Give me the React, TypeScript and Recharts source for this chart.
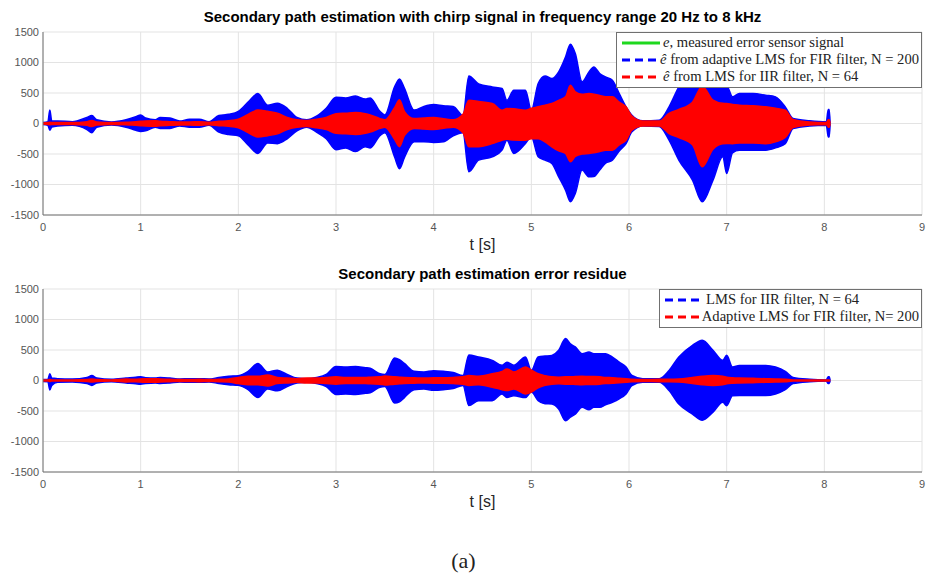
import {
  ComposedChart,
  Area,
  XAxis,
  YAxis,
  CartesianGrid,
  Legend,
} from 'recharts';

// time stamps (s) at which the envelopes were read
const times = [
  0, 0.05, 0.07, 0.09, 0.15, 0.3, 0.45, 0.5, 0.55, 0.7,
  0.85, 0.95, 1.0, 1.05, 1.15, 1.2, 1.3, 1.4, 1.5, 1.6,
  1.7, 1.8, 1.9, 2.0, 2.1, 2.2, 2.3, 2.4, 2.5, 2.6,
  2.7, 2.8, 2.9, 3.0, 3.1, 3.2, 3.3, 3.35, 3.45, 3.5,
  3.6, 3.65, 3.7, 3.8, 3.9, 4.0, 4.1, 4.2, 4.3, 4.36,
  4.46, 4.6, 4.7, 4.75, 4.82, 4.94, 5.0, 5.07, 5.14, 5.21,
  5.28, 5.35, 5.4, 5.45, 5.52, 5.59, 5.64, 5.7, 5.76, 5.83,
  5.9, 5.97, 6.03, 6.14, 6.31, 6.41, 6.51, 6.65, 6.75, 6.86,
  6.96, 7.0, 7.06, 7.13, 7.27, 7.4, 7.5, 7.6, 7.68, 7.85,
  8.02, 8.04, 8.05, 8.06,
];

// top panel: ê from adaptive LMS for FIR filter (blue envelope)
const topBlueHi = [
  15, 30, 220, 40, 40, 30, 100, 130, 60, 25,
  60, 110, 140, 90, 60, 100, 90, 40, 70, 70,
  30, 130, 150, 200, 350, 490, 300, 330, 250, 100,
  60, 120, 250, 430, 420, 450, 400, 420, 200, 140,
  600, 730, 580, 220, 280, 310, 290, 280, 130, 780,
  650, 600, 575, 380, 546, 546, 218, 655, 780, 737,
  846, 1090, 1300, 1147, 683, 846, 928, 820, 764, 710,
  491, 273, 137, 44, 55, 273, 600, 900, 1000, 800,
  600, 620, 437, 491, 491, 464, 437, 273, 82, 44,
  27, 230, 230, 0,
];
const topBlueLo = [
  -15, -30, -110, -60, -40, -30, -100, -150, -60, -25,
  -60, -110, -130, -120, -60, -80, -80, -40, -60, -60,
  -30, -140, -180, -200, -350, -490, -320, -330, -250, -120,
  -60, -140, -250, -430, -400, -460, -380, -400, -200, -150,
  -550, -740, -560, -300, -300, -310, -300, -200, -150, -790,
  -600, -546, -437, -273, -491, -328, -218, -546, -600, -655,
  -874, -1092, -1283, -1147, -764, -874, -870, -764, -650, -600,
  -450, -328, -136, -40, -50, -273, -600, -928, -1283, -928,
  -546, -819, -480, -437, -437, -437, -400, -330, -82, -40,
  -27, -220, -220, 0,
];

// top panel: ê from LMS for IIR filter (red envelope)
const topRedHi = [
  10, 15, 20, 15, 15, 15, 30, 50, 25, 15,
  20, 30, 35, 40, 45, 35, 30, 25, 25, 30,
  20, 35, 45, 70, 150, 220, 200, 170, 100, 60,
  50, 70, 100, 160, 170, 180, 160, 140, 80, 60,
  260, 390, 200, 80, 90, 100, 80, 60, 150, 380,
  360, 328, 218, 245, 240, 218, 250, 273, 300, 328,
  380, 437, 628, 519, 480, 491, 480, 460, 440, 437,
  350, 273, 120, 40, 40, 164, 230, 350, 611, 382,
  330, 328, 310, 300, 290, 273, 250, 218, 65, 25,
  15, 60, 60, 0,
];
const topRedLo = [
  -10, -15, -20, -15, -15, -15, -30, -50, -25, -15,
  -20, -30, -35, -40, -45, -35, -30, -25, -25, -30,
  -20, -35, -45, -70, -150, -220, -200, -170, -100, -60,
  -50, -70, -100, -160, -170, -180, -160, -140, -80, -60,
  -260, -380, -200, -80, -90, -100, -80, -60, -150, -380,
  -380, -330, -273, -260, -270, -273, -250, -250, -300, -382,
  -450, -491, -628, -540, -500, -491, -480, -460, -440, -437,
  -350, -273, -110, -40, -40, -164, -230, -350, -710, -420,
  -330, -328, -330, -320, -320, -330, -300, -230, -65, -25,
  -15, -60, -60, 0,
];

// bottom panel: LMS for IIR filter residue (blue envelope)
const botBlueHi = [
  15, 20, 110, 40, 30, 25, 50, 80, 40, 20,
  40, 55, 60, 45, 40, 50, 40, 25, 30, 30,
  25, 50, 70, 80, 150, 280, 140, 170, 100, 40,
  30, 50, 100, 230, 220, 230, 210, 200, 110, 100,
  370, 340, 280, 150, 140, 160, 150, 130, 80, 420,
  385, 330, 250, 300, 250, 385, 165, 385, 400, 412,
  495, 687, 600, 550, 440, 467, 440, 440, 440, 385,
  300, 220, 82, 30, 30, 165, 385, 577, 660, 495,
  330, 412, 220, 247, 247, 247, 220, 150, 50, 20,
  10, 60, 60, 0,
];
const botBlueLo = [
  -15, -20, -155, -80, -30, -25, -50, -80, -40, -20,
  -40, -55, -60, -50, -40, -50, -40, -25, -30, -30,
  -25, -50, -70, -80, -150, -280, -140, -170, -100, -40,
  -30, -50, -100, -230, -220, -230, -210, -200, -110, -100,
  -370, -350, -280, -150, -140, -160, -150, -130, -80, -410,
  -330, -330, -220, -280, -250, -280, -190, -330, -380, -385,
  -467, -660, -600, -550, -440, -480, -440, -440, -400, -357,
  -300, -220, -82, -30, -30, -165, -385, -550, -650, -520,
  -357, -412, -250, -247, -247, -247, -220, -150, -50, -20,
  -10, -50, -50, 0,
];

// bottom panel: adaptive LMS for FIR filter residue (red envelope)
const botRedHi = [
  10, 10, 15, 10, 10, 10, 15, 25, 15, 10,
  25, 20, 25, 30, 30, 25, 20, 15, 15, 20,
  15, 20, 25, 50, 70, 70, 90, 50, 40, 30,
  40, 40, 50, 60, 50, 50, 50, 55, 60, 75,
  60, 55, 50, 45, 40, 45, 45, 50, 60, 80,
  70, 110, 150, 190, 140, 220, 170, 110, 80, 60,
  55, 60, 60, 65, 70, 65, 65, 60, 50, 45,
  35, 30, 20, 15, 20, 20, 25, 50, 70, 82,
  70, 55, 45, 40, 35, 30, 25, 20, 10, 10,
  10, 10, 10, 0,
];
const botRedLo = [
  -10, -10, -15, -10, -10, -10, -15, -25, -15, -10,
  -25, -20, -25, -30, -30, -25, -20, -15, -15, -20,
  -15, -20, -25, -50, -70, -70, -90, -50, -40, -30,
  -40, -40, -50, -60, -50, -50, -50, -55, -60, -75,
  -60, -55, -50, -45, -40, -45, -45, -50, -60, -80,
  -70, -110, -150, -165, -140, -220, -190, -120, -80, -60,
  -55, -60, -60, -65, -70, -65, -65, -60, -50, -45,
  -35, -30, -20, -15, -20, -20, -25, -50, -70, -82,
  -70, -55, -45, -40, -35, -30, -25, -20, -10, -10,
  -10, -10, -10, 0,
];

const xTicks = [0, 1, 2, 3, 4, 5, 6, 7, 8, 9];
const yTicks = [-1500, -1000, -500, 0, 500, 1000, 1500];

const topLegend = [
  { color: '#1ed81e', dashed: false, math: 'e', text: ', measured error sensor signal' },
  { color: '#0000ff', dashed: true, math: 'ê', text: ' from adaptive LMS for FIR filter, N = 200' },
  { color: '#ff0000', dashed: true, math: 'ê', text: ' from LMS for IIR filter, N = 64' },
];
const bottomLegend = [
  { color: '#0000ff', dashed: true, math: '', text: 'LMS for IIR filter, N = 64' },
  { color: '#ff0000', dashed: true, math: '', text: 'Adaptive LMS for FIR filter, N= 200' },
];

const topData = times.map((t, i) => ({
  t,
  blue: [topBlueLo[i], topBlueHi[i]],
  red: [topRedLo[i], topRedHi[i]],
}));
const bottomData = times.map((t, i) => ({
  t,
  blue: [botBlueLo[i], botBlueHi[i]],
  red: [botRedLo[i], botRedHi[i]],
}));

const sans = '"Liberation Sans", Arial, sans-serif';
const serif = '"Liberation Serif", "DejaVu Serif", serif';
const axisGray = '#707070';

type Item = { color: string; dashed: boolean; math: string; text: string };

const LegendBox = ({ items }: { items: Item[] }) => (
  <div
    style={{
      background: '#fff',
      border: `1px solid ${axisGray}`,
      padding: '1px 2px 2px 4px',
      fontFamily: serif,
      fontSize: 14.6,
      color: '#222',
      lineHeight: '17px',
      whiteSpace: 'nowrap',
    }}
  >
    {items.map((it) => (
      <div key={it.text} style={{ display: 'flex', alignItems: 'center' }}>
        <svg width={40} height={10} style={{ marginRight: 2 }}>
          <line
            x1={1}
            y1={5}
            x2={39}
            y2={5}
            stroke={it.color}
            strokeWidth={3}
            strokeDasharray={it.dashed ? '8 5' : undefined}
          />
        </svg>
        <span>
          {it.math && <i>{it.math}</i>}
          {it.text}
        </span>
      </div>
    ))}
  </div>
);

type PanelProps = {
  data: typeof topData;
  top: number;
  plotTop: number;
  title: string;
  legend: Item[];
  legendLeft: number;
};

const Panel = ({ data, top, plotTop, title, legend, legendLeft }: PanelProps) => (
  <div style={{ position: 'absolute', left: 0, top, width: 927, height: 260 }}>
    <div
      style={{
        position: 'absolute',
        left: 0,
        width: 965,
        top: plotTop - 24,
        textAlign: 'center',
        fontFamily: sans,
        fontWeight: 'bold',
        fontSize: 15,
        color: '#000',
      }}
    >
      {title}
    </div>
    <ComposedChart
      width={927}
      height={260}
      data={data}
      margin={{ top: plotTop, right: 5, bottom: 0, left: 0 }}
    >
      <CartesianGrid stroke="#e3e3e3" />
      <XAxis
        dataKey="t"
        type="number"
        domain={[0, 9]}
        ticks={xTicks}
        interval={0}
        height={260 - plotTop - 183}
        tickSize={0}
        tickMargin={8}
        axisLine={{ stroke: axisGray }}
        tick={{ fontSize: 11, fill: '#555', fontFamily: sans }}
      />
      <XAxis
        xAxisId="frame"
        orientation="top"
        type="number"
        domain={[0, 9]}
        height={0}
        tick={false}
        tickLine={false}
        axisLine={{ stroke: axisGray }}
      />
      <YAxis
        type="number"
        domain={[-1500, 1500]}
        ticks={yTicks}
        interval={0}
        width={43}
        tickSize={0}
        tickMargin={4}
        axisLine={{ stroke: axisGray }}
        tick={{ fontSize: 11, fill: '#555', fontFamily: sans }}
      />
      <YAxis
        yAxisId="frame"
        orientation="right"
        type="number"
        domain={[-1500, 1500]}
        width={0}
        tick={false}
        tickLine={false}
        axisLine={{ stroke: axisGray }}
      />
      <Area
        dataKey="blue"
        type="monotone"
        stroke="#0000ff"
        strokeWidth={1.5}
        fill="#0000ff"
        fillOpacity={1}
        isAnimationActive={false}
      />
      <Area
        dataKey="red"
        type="monotone"
        stroke="#ff0000"
        strokeWidth={1.5}
        fill="#ff0000"
        fillOpacity={1}
        isAnimationActive={false}
      />
      <Legend
        layout="vertical"
        align="center"
        verticalAlign="middle"
        wrapperStyle={{ left: legendLeft, top: plotTop, width: 922 - legendLeft, right: 'auto' }}
        content={() => <LegendBox items={legend} />}
      />
    </ComposedChart>
    <div
      style={{
        position: 'absolute',
        left: 0,
        width: 965,
        top: plotTop + 183 + 21,
        textAlign: 'center',
        fontFamily: sans,
        fontSize: 16,
        color: '#262626',
      }}
    >
      t [s]
    </div>
  </div>
);

export default function App() {
  return (
    <div
      style={{
        position: 'absolute',
        left: 0,
        top: 0,
        width: 927,
        height: 577,
        background: '#fff',
        overflow: 'hidden',
      }}
    >
      <Panel
        data={topData}
        top={0}
        plotTop={32}
        title="Secondary path estimation with chirp signal in frequency range 20 Hz to 8 kHz"
        legend={topLegend}
        legendLeft={616}
      />
      <Panel
        data={bottomData}
        top={257}
        plotTop={32}
        title="Secondary path estimation error residue"
        legend={bottomLegend}
        legendLeft={659}
      />
      <div
        style={{
          position: 'absolute',
          left: 0,
          width: 927,
          top: 548,
          textAlign: 'center',
          fontFamily: serif,
          fontSize: 22,
          color: '#222',
        }}
      >
        (a)
      </div>
    </div>
  );
}
